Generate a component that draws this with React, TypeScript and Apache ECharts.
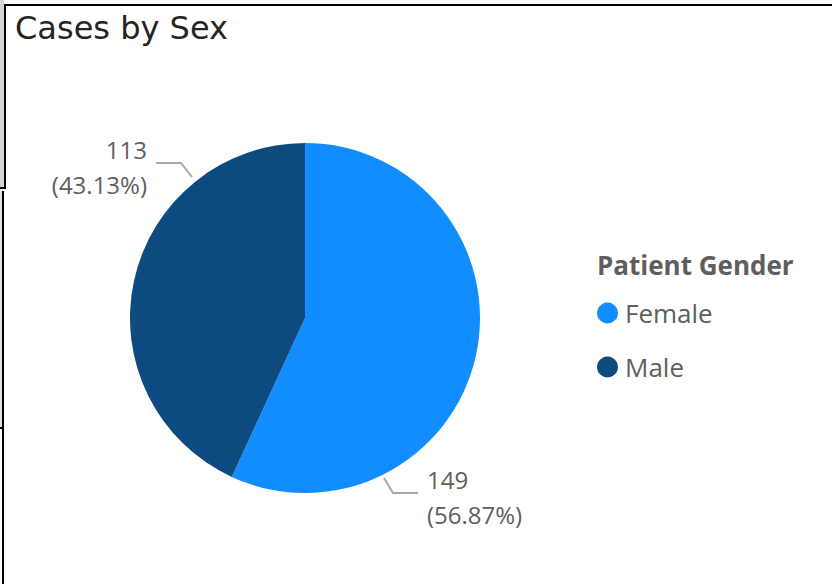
import React, { useEffect, useRef } from "react";
import * as echarts from "echarts";

const categories = ["Female", "Male"];
const caseCounts = [149, 113];
const sliceColors = ["#118DFF", "#0C4A80"];
const chartTitle = "Cases by Sex";
const legendTitle = "Patient Gender";

export default function App() {
  const ref = useRef<HTMLDivElement>(null);
  useEffect(() => {
    if (!ref.current) return;
    const chart = echarts.init(ref.current, undefined, { renderer: "svg" });
    const font = "'Open Sans', 'Noto Sans', sans-serif";
    chart.setOption({
      animation: false,
      backgroundColor: "#ffffff",
      title: {
        text: chartTitle,
        left: 10,
        top: 7,
        textStyle: { fontFamily: "'DejaVu Sans', sans-serif", fontSize: 32, fontWeight: "normal", color: "#252423" },
      },
      legend: {
        orient: "vertical",
        left: 592,
        top: 295,
        icon: "circle",
        itemWidth: 21,
        itemHeight: 21,
        itemGap: 28,
        data: categories,
        textStyle: { fontFamily: font, fontSize: 26, color: "#605E5C", padding: [0, 0, 0, 2] },
      },
      graphic: [
        {
          type: "text",
          left: 597,
          top: 252,
          style: { text: legendTitle, font: `bold 26px ${font}`, fill: "#605E5C" },
        },
        { type: "rect", shape: { x: 0, y: 0, width: 4, height: 188 }, style: { fill: "#d4d4d4" } },
        { type: "rect", shape: { x: 4, y: 4, width: 2, height: 185 }, style: { fill: "#000" } },
        { type: "rect", shape: { x: 0, y: 187, width: 6, height: 2 }, style: { fill: "#000" } },
        { type: "rect", shape: { x: 4, y: 4, width: 828, height: 2 }, style: { fill: "#000" } },
        { type: "rect", shape: { x: 2, y: 191, width: 2, height: 393 }, style: { fill: "#000" } },
        { type: "rect", shape: { x: 0, y: 191, width: 2, height: 237 }, style: { fill: "#e0e0e0" } },
        { type: "rect", shape: { x: 0, y: 427, width: 3, height: 2 }, style: { fill: "#000" } },
      ],
      series: [
        {
          type: "pie",
          center: [305, 318],
          radius: [0, 175],
          startAngle: 90,
          clockwise: true,
          data: categories.map((c, i) => ({
            name: c,
            value: caseCounts[i],
            itemStyle: { color: sliceColors[i] },
          })),
          label: {
            show: true,
            formatter: "{c}\n({d}%)",
            fontFamily: font,
            fontSize: 24,
            lineHeight: 35,
            color: "#605E5C",
            overflow: "none",
          },
          labelLine: { show: true, lineStyle: { color: "#A8A8A8", width: 2 } },
          labelLayout: (p: any) => {
            if (p.dataIndex === 1) {
              return {
                x: 147,
                y: 167,
                align: "right",
                verticalAlign: "middle",
                labelLinePoints: [
                  [192, 177],
                  [181, 163],
                  [156, 163],
                ],
              };
            }
            return {
              x: 427,
              y: 497,
              align: "left",
              verticalAlign: "middle",
              labelLinePoints: [
                [384, 478],
                [393, 493],
                [418, 493],
              ],
            };
          },
        },
      ],
    });
    return () => chart.dispose();
  }, []);
  return (
    <div
      ref={ref}
      style={{ position: "fixed", left: 0, top: 0, width: 832, height: 584 }}
    />
  );
}
